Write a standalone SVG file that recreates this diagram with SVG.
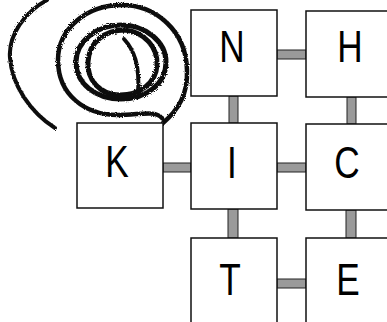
<svg xmlns="http://www.w3.org/2000/svg" width="387" height="322" viewBox="0 0 387 322">
<style>
.box{fill:#fff;stroke:#111;stroke-width:1.5}
.lnk{fill:#9a9a9a;stroke:#222;stroke-width:1}
.lbl{font-family:"Liberation Sans",Arial,sans-serif;font-size:44px;fill:#000;text-anchor:middle}
.sp{fill:none;stroke:#111;stroke-linecap:round}
</style>
<defs>
<filter id="rough" x="-10%" y="-10%" width="120%" height="120%">
<feTurbulence type="fractalNoise" baseFrequency="0.9" numOctaves="2" seed="3" result="n"/>
<feDisplacementMap in="SourceGraphic" in2="n" scale="3"/>
</filter>
</defs>
<rect width="387" height="322" fill="#fff"/>
<g id="spiral" filter="url(#rough)">
<path class="sp" stroke-width="4" d="M47,0 C25,12 8,35 10,58 C12,85 30,112 55,128"/>
<path class="sp" stroke-width="4.5" d="M163,123 C178,110 188,95 187,70 C186,30 155,5 122,5 C85,5 58,30 58,60 C58,95 85,115 118,115 C140,115 155,110 162,118"/>
<path class="sp" stroke-width="5" d="M121,25 C146,25 166,42 166,62 C166,84 146,99 121,99 C96,99 76,84 76,62 C76,42 96,25 121,25 Z"/>
<path class="sp" stroke-width="5" d="M125,30 C145,32 158,48 157,65 C156,83 140,95 120,95 C100,95 87,80 88,62 C89,42 105,30 125,30"/>
<path class="sp" stroke-width="4" d="M124,39 C134,50 140,65 138,93"/>
</g>
<g id="connectors">
<rect class="lnk" x="277" y="50" width="29" height="9"/>
<rect class="lnk" x="229" y="96" width="9" height="27"/>
<rect class="lnk" x="347" y="97" width="9" height="27"/>
<rect class="lnk" x="163" y="163" width="28" height="9"/>
<rect class="lnk" x="277" y="163" width="29" height="9"/>
<rect class="lnk" x="228" y="209" width="10" height="29"/>
<rect class="lnk" x="346" y="210" width="10" height="28"/>
<rect class="lnk" x="277" y="279" width="29" height="9"/>
</g>
<g id="N"><rect class="box" x="191" y="10" width="86" height="86"/><text class="lbl" transform="translate(232,62) scale(0.8,1)">N</text></g>
<g id="H"><rect class="box" x="306" y="11" width="86" height="86"/><text class="lbl" transform="translate(350,62) scale(0.8,1)">H</text></g>
<g id="K"><rect class="box" x="77" y="123" width="86" height="85"/><text class="lbl" transform="translate(117,177) scale(0.8,1)">K</text></g>
<g id="I"><rect class="box" x="191" y="123" width="86" height="86"/><text class="lbl" transform="translate(232,178) scale(0.8,1)">I</text></g>
<g id="C"><rect class="box" x="306" y="124" width="86" height="86"/><text class="lbl" transform="translate(347,178) scale(0.8,1)">C</text></g>
<g id="T"><rect class="box" x="191" y="238" width="86" height="90"/><text class="lbl" transform="translate(230,295) scale(0.8,1)">T</text></g>
<g id="E"><rect class="box" x="306" y="238" width="86" height="90"/><text class="lbl" transform="translate(348,295) scale(0.8,1)">E</text></g>
</svg>
